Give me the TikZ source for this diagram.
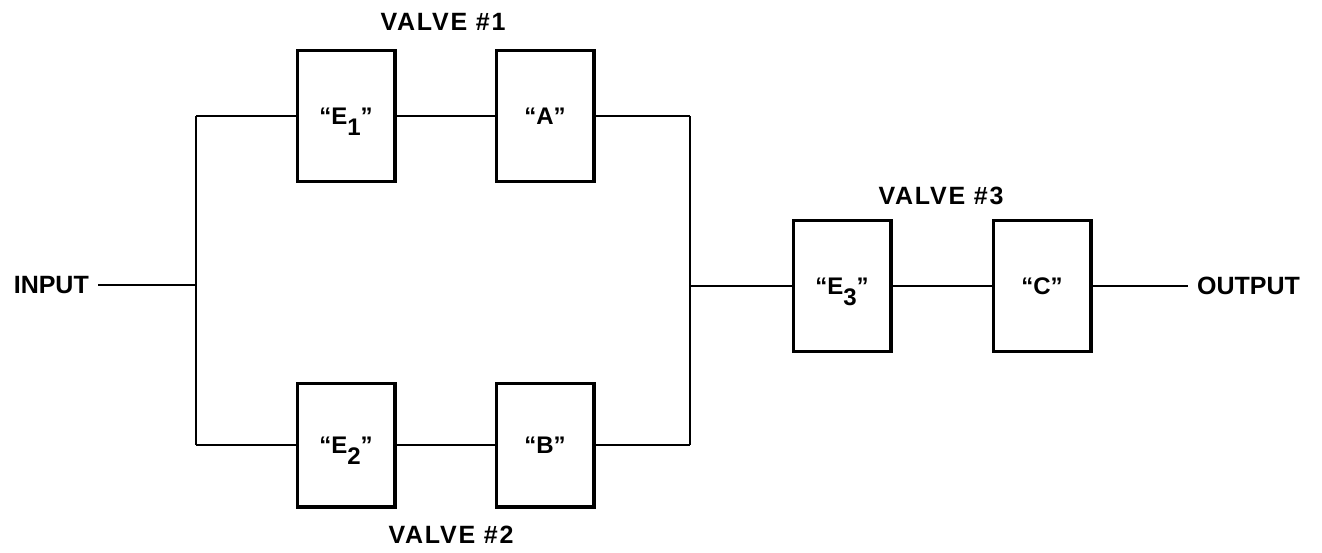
\documentclass[tikz,border=0pt]{standalone}
\usepackage{fontspec}
\setmainfont{Liberation Sans}
\newcommand\lowsub[1]{\smash{\raisebox{-11pt}{#1}}}
\begin{document}
\begin{tikzpicture}[x=1pt,y=-1pt,
  valvebox/.style={draw=black, line width=3.3pt, minimum width=97.7pt, minimum height=130.7pt, inner sep=0pt,
     font=\fontsize{24}{24}\selectfont\bfseries},
  lowbox/.style={valvebox, minimum height=123.7pt},
  wire/.style={draw=black, line width=2pt},
  lbl/.style={inner sep=0pt, font=\fontsize{25}{25}\selectfont\bfseries},
  vlbl/.style={inner sep=0pt, font=\fontsize{25}{25}\selectfont\bfseries\addfontfeatures{LetterSpace=7}},
  io/.style={inner ysep=0pt, inner xsep=9pt, font=\fontsize{25}{25}\selectfont\bfseries}]
\fill[white] (0,0) rectangle (1322,552);
\useasboundingbox (0,0) rectangle (1322,552);

% boxes
\node[valvebox] (E1) at (346,116) {“E\lowsub{1}”};
\node[valvebox] (A)  at (545,116) {“A”};
\node[lowbox]   (E2) at (346,445) {“E\lowsub{2}”};
\node[lowbox]   (B)  at (545,445) {“B”};
\node[valvebox] (E3) at (842,286) {“E\lowsub{3}”};
\node[valvebox] (C)  at (1042,286) {“C”};

% labels
\node[vlbl] (V1) at (443,22) {VALVE \#1};
\node[vlbl] (V2) at (451,535) {VALVE \#2};
\node[vlbl] (V3) at (941,196) {VALVE \#3};
\node[io, anchor=east] (in) at (98,285) {INPUT};
\node[io, anchor=west] (out) at (1188,286) {OUTPUT};

% junction points
\coordinate (Lt) at (196,116);
\coordinate (Lm) at (196,285);
\coordinate (Lb) at (196,445);
\coordinate (Rt) at (690,116);
\coordinate (Rm) at (690,286);
\coordinate (Rb) at (690,445);

% wires
\draw[wire] (in.east) -- (Lm);
\draw[wire] (Lt) -- (Lb);
\draw[wire] (Lt) -- (E1.west);
\draw[wire] (E1.east) -- (A.west);
\draw[wire] (A.east) -- (Rt);
\draw[wire] (Lb) -- (E2.west);
\draw[wire] (E2.east) -- (B.west);
\draw[wire] (B.east) -- (Rb);
\draw[wire] (Rt) -- (Rb);
\draw[wire] (Rm) -- (E3.west);
\draw[wire] (E3.east) -- (C.west);
\draw[wire] (C.east) -- (out.west);
\end{tikzpicture}
\end{document}
